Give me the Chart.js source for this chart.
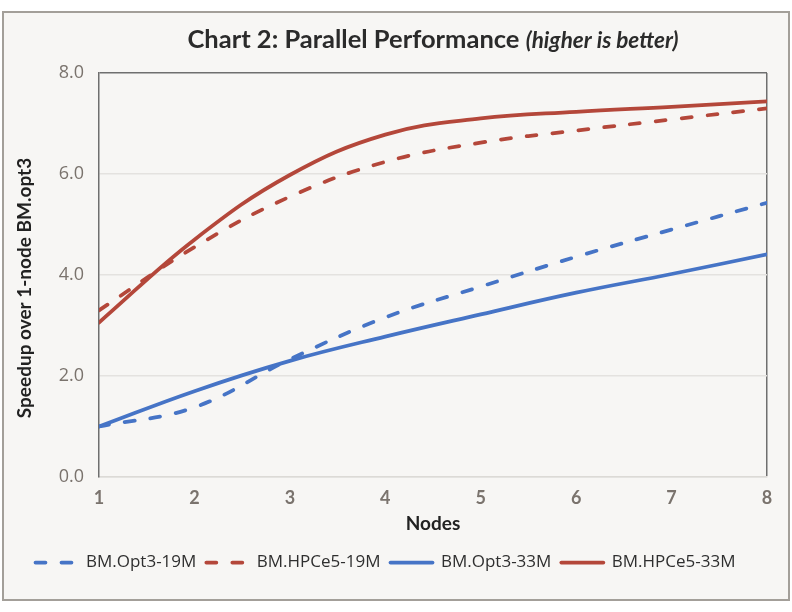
<!DOCTYPE html>
<html>
<head>
<meta charset="utf-8">
<script src="https://cdn.jsdelivr.net/npm/chart.js@4.4.1/dist/chart.umd.min.js"></script>
<style>
html,body{margin:0;padding:0;background:#ffffff;}
#wrap{width:792px;height:612px;position:relative;}
canvas{display:block;}
</style>
</head>
<body>
<div id="wrap"><canvas id="c" width="792" height="612"></canvas></div>
<script>
// ---- data ----
const nodes = [1, 2, 3, 4, 5, 6, 7, 8];
const opt3_19M  = [1.00, 1.38, 2.33, 3.16, 3.77, 4.36, 4.90, 5.43];
const hpce5_19M = [3.30, 4.55, 5.55, 6.24, 6.62, 6.86, 7.08, 7.30];
const opt3_33M  = [1.00, 1.70, 2.30, 2.78, 3.22, 3.65, 4.02, 4.41];
const hpce5_33M = [3.06, 4.70, 5.98, 6.78, 7.10, 7.23, 7.33, 7.44];
const seriesNames = ['BM.Opt3-19M', 'BM.HPCe5-19M', 'BM.Opt3-33M', 'BM.HPCe5-33M'];
const yTickValues = [0, 2, 4, 6, 8];
const xTickValues = [1, 2, 3, 4, 5, 6, 7, 8];
const titleMain = 'Chart 2: Parallel Performance';
const titleSub = '(higher is better)';
const xAxisTitle = 'Nodes';
const yAxisTitle = 'Speedup over 1-node BM.opt3';

// ---- styling ----
const BLUE = '#4674c6';
const RED = '#b4473a';
const DASH = [10, 16];
const LW = 3.75;

function pts(arr) { return nodes.map((n, i) => ({ x: n, y: arr[i] })); }

const seriesData = [opt3_19M, hpce5_19M, opt3_33M, hpce5_33M];
const seriesColors = [BLUE, RED, BLUE, RED];
const seriesDashed = [true, true, false, false];

const datasets = seriesNames.map((name, i) => ({
  label: name,
  data: pts(seriesData[i]),
  borderColor: seriesColors[i],
  backgroundColor: seriesColors[i],
  borderWidth: LW,
  borderDash: seriesDashed[i] ? DASH : [],
  borderCapStyle: 'round',
  borderJoinStyle: 'round',
  pointRadius: 0,
  pointHoverRadius: 0,
  pointStyle: 'line',
  tension: 0.4,
  fill: false
}));

const framePlugin = {
  id: 'frame',
  beforeDraw(chart) {
    const ctx = chart.ctx;
    ctx.save();
    ctx.fillStyle = '#ffffff';
    ctx.fillRect(0, 0, chart.width, chart.height);
    ctx.fillStyle = '#f7f6f4';
    ctx.fillRect(3, 12, 786, 588);
    ctx.strokeStyle = '#a39f99';
    ctx.lineWidth = 2;
    ctx.strokeRect(3, 12, 786, 588);
    ctx.restore();
  }
};

const titlePlugin = {
  id: 'mixedTitle',
  afterDraw(chart) {
    const ctx = chart.ctx;
    const a = chart.chartArea;
    ctx.save();
    const f1 = 'bold 25.5px Lato';
    const f2 = 'italic bold 22.5px Lato';
    ctx.font = f1;
    const w1 = ctx.measureText(titleMain + ' ').width;
    ctx.font = f2;
    const w2 = ctx.measureText(titleSub).width;
    const cx = (a.left + a.right) / 2;
    const x = cx - (w1 + w2) / 2;
    const y = 48;
    ctx.fillStyle = '#2b2b2b';
    ctx.textBaseline = 'alphabetic';
    ctx.textAlign = 'left';
    ctx.font = f1;
    ctx.fillText(titleMain + ' ', x, y);
    ctx.font = f2;
    ctx.fillText(titleSub, x + w1, y);
    // vertical axis title
    ctx.translate(25, 288);
    ctx.rotate(-Math.PI / 2);
    ctx.font = 'bold 19px Lato';
    ctx.textAlign = 'center';
    ctx.textBaseline = 'middle';
    ctx.fillStyle = '#222222';
    ctx.fillText(yAxisTitle, 0, 0);
    ctx.restore();
  }
};

new Chart(document.getElementById('c'), {
  type: 'line',
  data: { datasets },
  plugins: [framePlugin, titlePlugin],
  options: {
    responsive: false,
    animation: false,
    devicePixelRatio: 1,
    layout: { padding: { left: 4, right: 25, top: 73, bottom: 31 } },
    plugins: {
      legend: {
        position: 'bottom',
        labels: {
          usePointStyle: true,
          pointStyleWidth: 42,
          padding: 10,
          color: '#2f2f2f',
          font: { family: 'Open Sans', size: 17 },
          generateLabels(chart) {
            const items = Chart.defaults.plugins.legend.labels.generateLabels(chart);
            items.forEach((it) => {
              const ds = chart.data.datasets[it.datasetIndex];
              it.lineDash = ds.borderDash;
              it.lineWidth = ds.borderWidth;
              it.lineCap = 'round';
              it.strokeStyle = ds.borderColor;
              it.pointStyle = 'line';
            });
            return items;
          }
        }
      },
      tooltip: { enabled: false }
    },
    scales: {
      x: {
        type: 'linear',
        min: 1, max: 8,
        afterFit(s) { s.height = 67; },
        afterBuildTicks(s) { s.ticks = xTickValues.map(v => ({ value: v })); },
        ticks: {
          padding: 10,
          color: '#7a736d',
          font: { family: 'Lato', size: 18, weight: 'bold' }
        },
        grid: {
          drawTicks: false,
          color: (c) => (c.tick && c.tick.value === 8 ? '#6f6f6f' : 'rgba(0,0,0,0)'),
          lineWidth: 1.5
        },
        border: { color: '#dcdad6', width: 1.5 },
        title: {
          display: true,
          text: xAxisTitle,
          color: '#222222',
          padding: { top: 0, bottom: 9 },
          font: { family: 'Lato', size: 19, weight: 'bold' }
        }
      },
      y: {
        min: 0, max: 8,
        afterFit(s) { s.width = 95; },
        afterBuildTicks(s) { s.ticks = yTickValues.map(v => ({ value: v })); },
        ticks: {
          padding: 15,
          color: '#7a736d',
          font: { family: 'Open Sans', size: 18 },
          callback: (v) => Number(v).toFixed(1)
        },
        grid: {
          drawTicks: false,
          color: (c) => (c.tick && c.tick.value === 8 ? '#6f6f6f' : '#e4e2df'),
          lineWidth: 1.5
        },
        border: { color: '#6f6f6f', width: 1.5 },
        title: { display: false }
      }
    }
  }
});
</script>
</body>
</html>
